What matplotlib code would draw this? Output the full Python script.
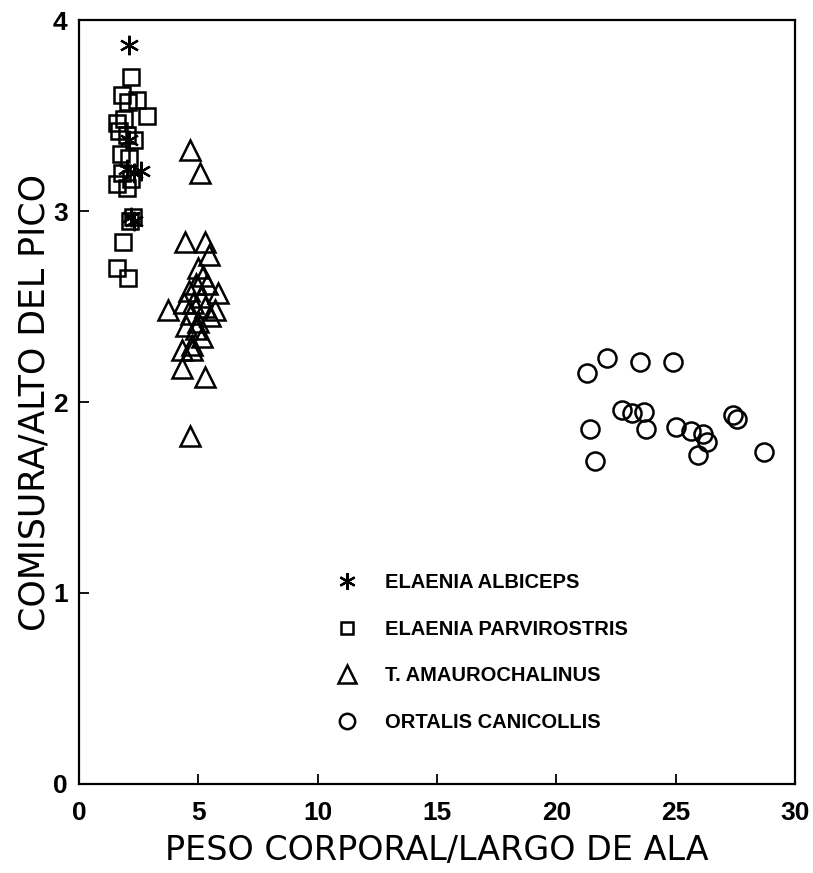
import matplotlib
matplotlib.use('Agg')

import matplotlib.pyplot as plt

plt.rcParams['font.family'] = ['Liberation Sans', 'DejaVu Sans']

# Elaenia albiceps (asteriscos)
albiceps_x = [2.1, 2.1, 2.0, 2.3, 2.6, 2.2, 2.3]
albiceps_y = [3.87, 3.37, 3.22, 3.20, 3.21, 2.97, 2.95]

# Elaenia parvirostris (cuadrados)
parvi_x = [2.2, 1.8, 2.05, 2.45, 2.85, 1.6, 1.9, 1.7, 2.0, 2.3, 1.75, 2.1,
           1.8, 2.2, 1.6, 2.0, 2.25, 2.15, 1.85, 1.6, 2.05]
parvi_y = [3.70, 3.61, 3.57, 3.58, 3.50, 3.46, 3.48, 3.42, 3.40, 3.37, 3.30, 3.28,
           3.20, 3.17, 3.14, 3.12, 2.97, 2.95, 2.84, 2.70, 2.65]

# T. amaurochalinus (triangulos)
amauro_x = [4.65, 5.07, 4.45, 5.28, 5.45, 5.0, 5.2, 5.35, 4.9, 5.82, 3.75, 5.7,
            4.6, 5.1, 4.8, 5.3, 4.4, 5.5, 4.7, 5.0, 4.9, 4.5, 5.15, 4.75,
            4.3, 4.75, 4.3, 5.3, 4.65]
amauro_y = [3.32, 3.20, 2.84, 2.84, 2.77, 2.70, 2.66, 2.62, 2.62, 2.57, 2.48, 2.48,
            2.58, 2.55, 2.52, 2.50, 2.52, 2.45, 2.46, 2.42, 2.38, 2.40, 2.34, 2.30,
            2.27, 2.27, 2.18, 2.13, 1.82]

# Ortalis canicollis (circulos)
ortalis_x = [21.3, 22.1, 23.5, 24.9, 22.75, 23.15, 23.65, 23.75, 21.4, 21.6,
             25.0, 25.65, 26.15, 26.3, 25.95, 27.4, 27.55, 28.7]
ortalis_y = [2.15, 2.23, 2.21, 2.21, 1.96, 1.94, 1.95, 1.86, 1.86, 1.69,
             1.87, 1.85, 1.83, 1.79, 1.72, 1.93, 1.91, 1.74]

fig = plt.figure(figsize=(8.13, 8.73), dpi=100)
ax = fig.add_axes([0.097, 0.102, 0.881, 0.875])

ax.plot(albiceps_x, albiceps_y, ls='none', marker=(6, 2, 0), ms=14, mew=1.6,
        color='black', label='ELAENIA ALBICEPS')
ax.plot(parvi_x, parvi_y, ls='none', marker='s', ms=11, mew=1.8, mfc='none',
        mec='black', label='ELAENIA PARVIROSTRIS')
ax.plot(amauro_x, amauro_y, ls='none', marker='^', ms=15, mew=1.8, mfc='none',
        mec='black', label='T. AMAUROCHALINUS')
ax.plot(ortalis_x, ortalis_y, ls='none', marker='o', ms=13, mew=1.8, mfc='none',
        mec='black', label='ORTALIS CANICOLLIS')

ax.set_xlim(0, 30)
ax.set_ylim(0, 4)
ax.set_xticks([0, 5, 10, 15, 20, 25, 30])
ax.set_yticks([0, 1, 2, 3, 4])
ax.tick_params(direction='in', length=7, width=1.3, labelsize=19)
ax.tick_params(axis='x', pad=12)
ax.tick_params(axis='y', pad=8)
for lbl in ax.get_xticklabels() + ax.get_yticklabels():
    lbl.set_fontweight('bold')
for sp in ax.spines.values():
    sp.set_linewidth(1.6)

ax.set_xlabel('PESO CORPORAL/LARGO DE ALA', fontsize=24, family='DejaVu Sans')
ax.set_ylabel('COMISURA/ALTO DEL PICO', fontsize=25, family='DejaVu Sans')
ax.xaxis.set_label_coords(0.5, -0.065)
ax.yaxis.set_label_coords(-0.038, 0.5)

leg = ax.legend(loc='upper left', bbox_to_anchor=(0.335, 0.30), frameon=False,
                fontsize=14.5, labelspacing=1.38, handletextpad=1.4,
                handlelength=1.0, markerscale=0.85)
for t in leg.get_texts():
    t.set_fontweight('bold')

fig.savefig('out.png', dpi=100)
